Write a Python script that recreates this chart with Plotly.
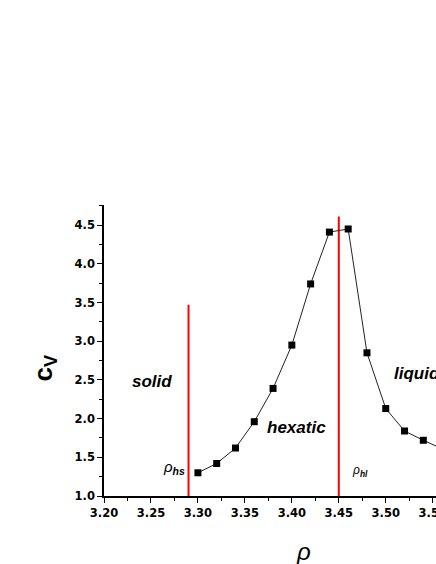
import plotly.graph_objects as go

# heat capacity vs density
rho = [3.30, 3.32, 3.34, 3.36, 3.38, 3.40, 3.42, 3.44, 3.46, 3.48, 3.50, 3.52, 3.54, 3.56]
cv = [1.30, 1.42, 1.62, 1.96, 2.39, 2.95, 3.74, 4.41, 4.45, 2.85, 2.13, 1.84, 1.72, 1.61]

# transition densities (red markers) and their heights
rho_transition = [3.29, 3.45]
transition_top = [3.47, 4.61]

region_labels = ["solid", "hexatic", "liquid"]

FONT = "Liberation Sans, Arial, sans-serif"
TICKFONT = "DejaVu Sans, sans-serif"

fig = go.Figure()

for xt, yt in zip(rho_transition, transition_top):
    fig.add_trace(go.Scatter(
        x=[xt, xt], y=[1.0, yt], mode="lines",
        line=dict(color="#ff0000", width=2),
        showlegend=False, hoverinfo="skip"
    ))

fig.add_trace(go.Scatter(
    x=rho, y=cv, mode="lines+markers",
    line=dict(color="#222222", width=1),
    marker=dict(symbol="square", size=7, color="black"),
    showlegend=False
))

# region labels and transition labels
fig.add_annotation(x=3.2513, y=2.48, text="<b><i>%s</i></b>" % region_labels[0],
                   showarrow=False, font=dict(size=17, family=FONT, color="black"))
fig.add_annotation(x=3.405, y=1.885, text="<b><i>%s</i></b>" % region_labels[1],
                   showarrow=False, font=dict(size=17, family=FONT, color="black"))
fig.add_annotation(x=3.507, y=2.58, text="<b><i>%s</i></b>" % region_labels[2],
                   xanchor="left", showarrow=False,
                   font=dict(size=17, family=FONT, color="black"))
fig.add_annotation(x=3.274, y=1.37, text="<i>ρ</i><sub><b><i>hs</i></b></sub>",
                   showarrow=False, font=dict(size=15, family=FONT, color="black"))
fig.add_annotation(x=3.473, y=1.32, text="<i>ρ</i><sub><b><i>hl</i></b></sub>",
                   showarrow=False, font=dict(size=12, family=FONT, color="black"))

# axis titles
fig.add_annotation(xref="paper", yref="paper", x=-0.235, y=0.44,
                   text="<b>c<sub>V</sub></b>", textangle=-90, showarrow=False,
                   font=dict(size=26, family=FONT, color="black"))
fig.add_annotation(xref="paper", yref="paper", x=0.60, y=-0.245,
                   text="<i>ρ</i>", showarrow=False,
                   font=dict(size=24, family=FONT, color="black"))

# the plot runs off the right edge (cropped chart)
fig.update_layout(
    width=436, height=564,
    margin=dict(l=104, r=0, t=205, b=68),
    plot_bgcolor="white", paper_bgcolor="white",
    font=dict(family=FONT, color="black"),
)

fig.update_xaxes(
    range=[3.20, 3.5535], tickvals=[3.20, 3.25, 3.30, 3.35, 3.40, 3.45, 3.50, 3.55],
    tickformat=".2f", ticks="outside", ticklen=5, tickwidth=1, tickcolor="black",
    minor=dict(dtick=0.025, ticks="outside", ticklen=3, tickcolor="black"),
    showline=True, linecolor="black", linewidth=1.5, showgrid=False, zeroline=False,
    ticklabeloverflow="allow", automargin=False,
    tickfont=dict(size=11.5, family=TICKFONT, weight="bold", color="black"),
)
fig.update_yaxes(
    range=[1.0, 4.76], tickvals=[1.0, 1.5, 2.0, 2.5, 3.0, 3.5, 4.0, 4.5],
    tickformat=".1f", ticks="outside", ticklen=5, tickwidth=1, tickcolor="black",
    minor=dict(dtick=0.25, ticks="outside", ticklen=3, tickcolor="black"),
    showline=True, linecolor="black", linewidth=1.5, showgrid=False, zeroline=False,
    automargin=False,
    tickfont=dict(size=11.5, family=TICKFONT, weight="bold", color="black"),
)

# drop the default page margin so the figure fills the window exactly
fig.write_html("out.html", config={"displayModeBar": False},
               post_script="document.body.style.margin='0';document.body.style.overflow='hidden';")
